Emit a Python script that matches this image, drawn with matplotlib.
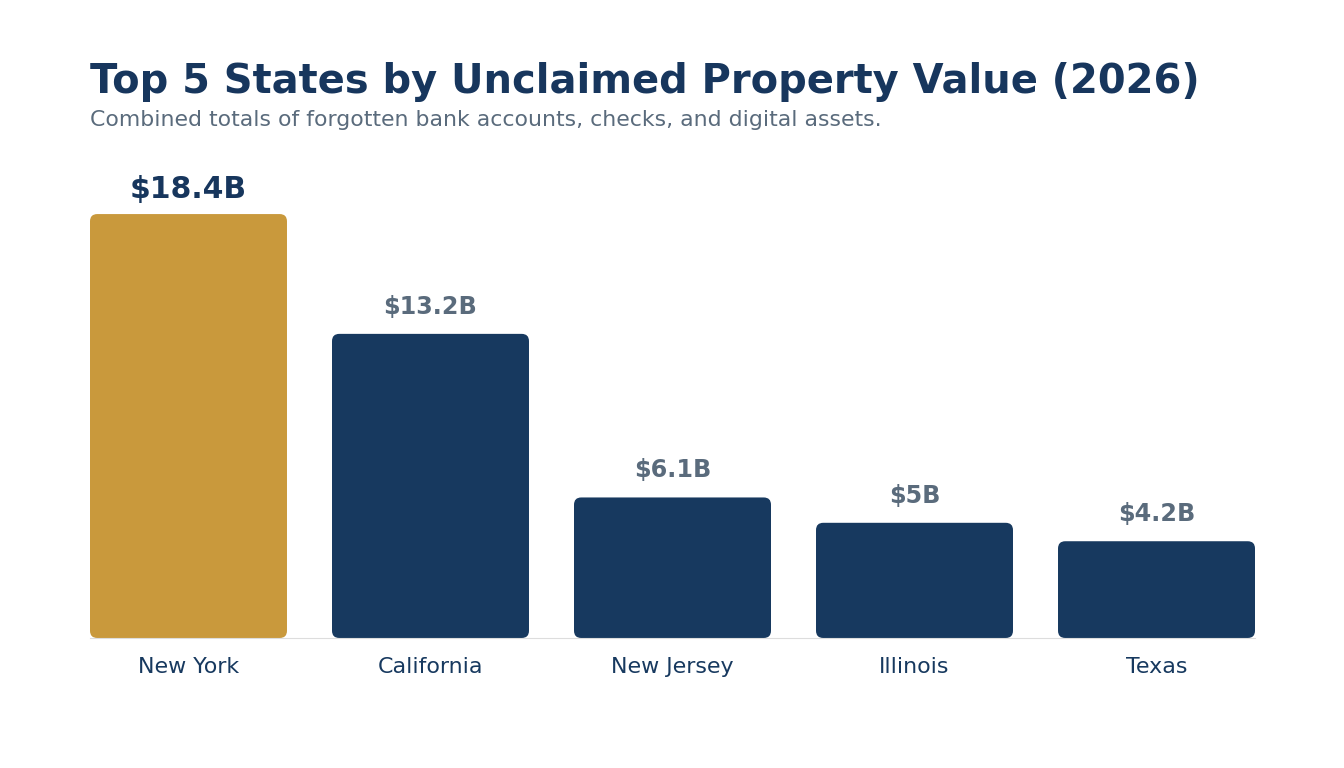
import matplotlib
matplotlib.use("Agg")
import matplotlib.pyplot as plt
from matplotlib.patches import FancyBboxPatch

plt.rcParams['font.family'] = ['DejaVu Sans']

states = ["New York", "California", "New Jersey", "Illinois", "Texas"]
values = [18.4, 13.2, 6.1, 5.0, 4.2]
labels = ["$18.4B", "$13.2B", "$6.1B", "$5B", "$4.2B"]

NAVY = "#17395F"
GOLD = "#C9993C"
GREY = "#5A6B7C"

fig = plt.figure(figsize=(13.44, 7.68), dpi=100)
ax = fig.add_axes([90/1344, 130/768, 1165/1344, 488/768])
ax.set_xlim(-0.407, 4.407)
ax.set_ylim(0, 488/23.04)

bars = ax.bar(range(len(states)), values, width=0.814)
aspect = (1/23.04) / (4.814/1165)
for i, b in enumerate(bars):
    x, y, w, h = b.get_x(), b.get_y(), b.get_width(), b.get_height()
    b.set_visible(False)
    p = FancyBboxPatch((x, y), w, h, boxstyle="round,pad=0,rounding_size=0.03",
                       mutation_aspect=aspect, facecolor=GOLD if i == 0 else NAVY,
                       edgecolor="none")
    ax.add_patch(p)
    if i == 0:
        ax.text(i, h + 0.42, labels[i], ha="center", va="bottom", fontsize=21.5,
                fontweight="bold", color="#17365D")
    else:
        ax.text(i, h + 0.65, labels[i], ha="center", va="bottom", fontsize=17.2,
                fontweight="bold", color=GREY)

for s in ["top", "right", "left"]:
    ax.spines[s].set_visible(False)
ax.spines["bottom"].set_color("#DDDDDD")
ax.set_yticks([])
ax.set_xticks(range(len(states)))
ax.set_xticklabels(states, fontsize=15.9, color=NAVY)
ax.tick_params(axis="x", length=0, pad=14)

fig.text(90/1344, 1 - 82/768, "Top 5 States by Unclaimed Property Value (2026)",
         fontsize=28.8, fontweight="bold", color="#17365D", va="center")
fig.text(90/1344, 1 - 120/768, "Combined totals of forgotten bank accounts, checks, and digital assets.",
         fontsize=15.85, color=GREY, va="center")

fig.savefig("out.png", dpi=100, facecolor="white")
